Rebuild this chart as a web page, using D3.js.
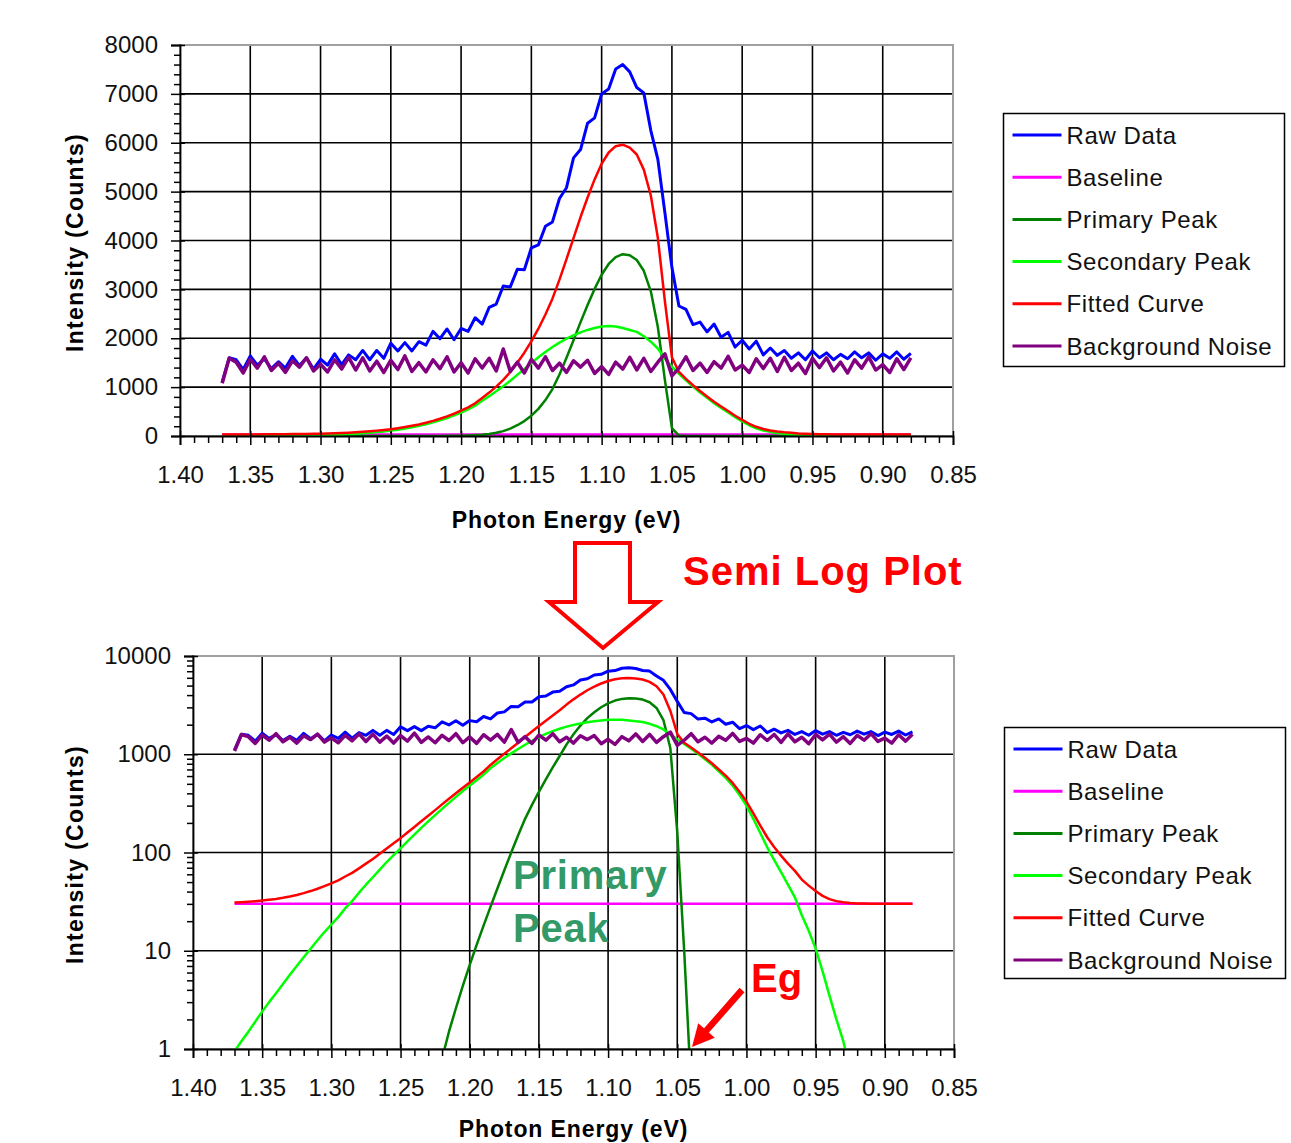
<!DOCTYPE html>
<html>
<head>
<meta charset="utf-8">
<script src="https://d3js.org/d3.v7.min.js"></script>
<style>
    body { margin: 0; background: #ffffff; }
    svg { display: block; }
    text { font-family: "Liberation Sans", Arial, sans-serif; }
</style>
</head>
<body>
<svg id="drawing_region"></svg>
<script>
// values (photon energy in eV, intensity in counts)
const energy = [
    1.370,1.365,1.360,1.355,1.350,1.345,1.340,1.335,1.330,1.325,
    1.320,1.315,1.310,1.305,1.300,1.295,1.290,1.285,1.280,1.275,
    1.270,1.265,1.260,1.255,1.250,1.245,1.240,1.235,1.230,1.225,
    1.220,1.215,1.210,1.205,1.200,1.195,1.190,1.185,1.180,1.175,
    1.170,1.165,1.160,1.155,1.150,1.145,1.140,1.135,1.130,1.125,
    1.120,1.115,1.110,1.105,1.100,1.095,1.090,1.085,1.080,1.075,
    1.070,1.065,1.060,1.055,1.050,1.045,1.040,1.035,1.030,1.025,
    1.020,1.015,1.010,1.005,1.000,0.995,0.990,0.985,0.980,0.975,
    0.970,0.965,0.960,0.955,0.950,0.945,0.940,0.935,0.930,0.925,
    0.920,0.915,0.910,0.905,0.900,0.895,0.890,0.885,0.880
];

const rawData = [
    1100,1600,1560,1360,1640,1450,1580,1380,1520,1390,
    1630,1440,1600,1370,1570,1450,1680,1460,1660,1560,
    1750,1560,1750,1590,1900,1740,1910,1740,1930,1860,
    2140,1990,2190,1970,2200,2140,2420,2290,2630,2700,
    3070,3050,3410,3400,3850,3910,4290,4380,4860,5080,
    5690,5860,6400,6510,7000,7100,7510,7600,7450,7130,
    7020,6250,5660,4570,3450,2660,2590,2280,2330,2130,
    2290,2020,2120,1820,1960,1780,1940,1660,1800,1650,
    1750,1590,1700,1560,1740,1600,1700,1560,1670,1580,
    1720,1600,1700,1550,1680,1590,1720,1570,1690
];

const baselineEnergy = [1.370, 0.880];
const baselineCounts = [30, 30];

const primaryPeak = [
    0.01,0.01,0.01,0.01,0.01,0.01,0.01,0.01,0.01,0.01,
    0.01,0.01,0.01,0.01,0.01,0.01,0.01,0.01,0.01,0.01,
    0.01,0.01,0.01,0.01,0.02,0.03,0.05,0.1,0.2,0.4,
    0.8,1.5,2.6,4.4,7.2,11.5,18,28,43,66,
    100,150,220,305,415,555,735,960,1260,1600,
    1960,2330,2680,3010,3300,3520,3660,3720,3700,3600,
    3380,2960,2230,1150,160,10,0.4,0.01,0.01,0.01,
    0.01,0.01,0.01,0.01,0.01,0.01,0.01,0.01,0.01,0.01,
    0.01,0.01,0.01,0.01,0.01,0.01,0.01,0.01,0.01,0.01,
    0.01,0.01,0.01,0.01,0.01,0.01,0.01,0.01,0.01
];

const secondaryPeak = [
    0.95,1.2,1.5,1.9,2.4,3.0,3.7,4.6,5.7,7.0,
    8.6,10.5,12.8,15.5,18.5,22,27,32,39,47,
    56,67,80,94,110,130,152,178,207,240,
    278,320,368,422,480,545,620,720,815,915,
    1020,1130,1250,1370,1490,1610,1720,1820,1910,1990,
    2060,2120,2170,2210,2240,2250,2240,2210,2170,2130,
    2040,1930,1790,1580,1420,1270,1140,1010,890,780,
    670,575,480,385,300,220,158,113,84,63,
    47,35,23,16,10.5,6.2,3.5,2.0,1.2,0.6,
    0.3,0.15,0.07,0.03,0.01,0.01,0.01,0.01,0.01
];

const fittedCurve = [
    31,31.2,31.5,31.9,32.4,33,33.7,34.6,35.7,37,
    38.6,40.5,42.8,45.5,48.5,52,57,62,69,77,
    86,97,110,124,140,160,182,208,237,270,
    309,352,401,456,517,587,668,778,888,1011,
    1150,1310,1500,1705,1935,2195,2485,2810,3200,3620,
    4050,4480,4880,5250,5570,5800,5930,5960,5900,5760,
    5450,4920,4050,2760,1610,1310,1170,1040,920,810,
    700,605,510,415,330,250,188,143,114,93,
    77,65,53,46,40.5,36.2,33.5,32,31.2,30.6,
    30.3,30.2,30.1,30,30,30,30,30,30
];

const backgroundNoise = [
    1080,1590,1510,1290,1570,1390,1620,1340,1490,1300,
    1540,1410,1600,1330,1470,1310,1560,1370,1610,1350,
    1600,1330,1530,1300,1550,1360,1640,1320,1500,1310,
    1560,1380,1620,1310,1500,1290,1580,1390,1590,1330,
    1780,1320,1510,1290,1570,1390,1620,1340,1490,1300,
    1540,1410,1550,1280,1420,1260,1510,1370,1610,1350,
    1590,1320,1510,1680,1230,1390,1620,1340,1490,1300,
    1520,1390,1630,1350,1450,1300,1580,1380,1590,1320,
    1610,1340,1490,1280,1590,1400,1600,1330,1510,1290,
    1560,1390,1620,1350,1460,1300,1580,1360,1600
];

const seriesNames = ["Raw Data", "Baseline", "Primary Peak", "Secondary Peak", "Fitted Curve", "Background Noise"];
const seriesColors = ["#0000ff", "#ff00ff", "#008000", "#00ff00", "#ff0000", "#800080"];

const xTicks = [1.40, 1.35, 1.30, 1.25, 1.20, 1.15, 1.10, 1.05, 1.00, 0.95, 0.90, 0.85];
const linearTicks = [0, 1000, 2000, 3000, 4000, 5000, 6000, 7000, 8000];
const logTicks = [1, 10, 100, 1000, 10000];

const toPoints = (xs, ys) => xs.map((x, i) => ({x: x, y: ys[i]}));

const seriesData = [
    toPoints(energy, rawData),
    toPoints(baselineEnergy, baselineCounts),
    toPoints(energy, primaryPeak),
    toPoints(energy, secondaryPeak),
    toPoints(energy, fittedCurve),
    toPoints(energy, backgroundNoise)
];
const seriesWidths = [3, 2.5, 2.5, 2.5, 2.5, 3.5];

d3.select('#drawing_region')
    .attr('width', 1291)
    .attr('height', 1143);

class SpectrumChart {

    constructor( config, data ) {
        this.config = {
            parent: config.parent,
            id: config.id,
            left: config.left,
            top: config.top,
            width: config.width,
            height: config.height,
            yType: config.yType || 'linear',
            yTicks: config.yTicks,
            titleY: config.titleY,
            legend: config.legend
        };
        this.data = data;
        this.init();
    }

    init() {
        let self = this;

        self.svg = d3.select( self.config.parent );

        self.chart = self.svg.append('g')
            .attr('transform', `translate(${self.config.left}, ${self.config.top})`);

        self.xscale = d3.scaleLinear()
            .domain( [xTicks[0], xTicks[xTicks.length - 1]] )
            .range( [0, self.config.width] );

        const yext = d3.extent( self.config.yTicks );
        if ( self.config.yType == 'log' ) {
            self.yscale = d3.scaleLog().domain( yext ).range( [self.config.height, 0] );
            self.yminor = [];
            self.config.yTicks.slice(0, -1).forEach( d => {
                for ( let k = 2; k < 10; k++ ) self.yminor.push( k * d );
            });
        } else {
            self.yscale = d3.scaleLinear().domain( yext ).range( [self.config.height, 0] );
            self.yminor = d3.range( yext[0], yext[1], 200 ).filter( d => d % 1000 != 0 );
        }
        self.xminor = d3.range( 85, 140 ).map( d => d / 100 ).filter( d => Math.round(d * 100) % 5 != 0 );

        self.line = d3.line()
            .x( d => self.xscale(d.x) )
            .y( d => self.yscale(d.y) );

        self.chart.append('clipPath')
            .attr('id', self.config.id + '_clip')
            .append('rect')
            .attr('width', self.config.width)
            .attr('height', self.config.height);
    }

    render() {
        let self = this;
        const W = self.config.width, H = self.config.height;

        // grid
        self.chart.append('g')
            .selectAll('line')
            .data( xTicks.slice(1, -1) )
            .join('line')
            .attr('x1', d => self.xscale(d)).attr('x2', d => self.xscale(d))
            .attr('y1', 0).attr('y2', H)
            .attr('stroke', '#000').attr('stroke-width', 1.6);

        self.chart.append('g')
            .selectAll('line')
            .data( self.config.yTicks.slice(1, -1) )
            .join('line')
            .attr('x1', 0).attr('x2', W)
            .attr('y1', d => self.yscale(d)).attr('y2', d => self.yscale(d))
            .attr('stroke', '#000').attr('stroke-width', 1.6);

        self.chart.append('rect')
            .attr('width', W).attr('height', H)
            .attr('fill', 'none')
            .attr('stroke', '#a0a0a0')
            .attr('stroke-width', 2);

        // series
        const plot = self.chart.append('g')
            .attr('clip-path', `url(#${self.config.id}_clip)`);
        self.data.forEach( (s, i) => {
            plot.append('path')
                .attr('d', self.line(s))
                .attr('fill', 'none')
                .attr('stroke', seriesColors[i])
                .attr('stroke-width', seriesWidths[i])
                .attr('stroke-linejoin', 'round');
        });

        // axes
        const xaxis = d3.axisBottom( self.xscale )
            .tickValues( xTicks )
            .tickSizeOuter(0)
            .tickSize(9)
            .tickPadding(21)
            .tickFormat( d3.format('.2f') );
        const xg = self.chart.append('g')
            .attr('transform', `translate(0, ${H})`)
            .call( xaxis );
        xg.selectAll('.tick line').attr('y1', -5);

        const xminorAxis = d3.axisBottom( self.xscale )
            .tickValues( self.xminor )
            .tickSize(7)
            .tickFormat('');
        const xmg = self.chart.append('g')
            .attr('transform', `translate(0, ${H})`)
            .call( xminorAxis );
        xmg.select('.domain').remove();

        const yaxis = d3.axisLeft( self.yscale )
            .tickValues( self.config.yTicks )
            .tickSizeOuter(0)
            .tickSize(9)
            .tickPadding(13)
            .tickFormat( d3.format('d') );
        const yg = self.chart.append('g').call( yaxis );
        yg.selectAll('.tick line').attr('x1', 5);

        const yminorAxis = d3.axisLeft( self.yscale )
            .tickValues( self.yminor )
            .tickSize(6)
            .tickFormat('');
        const ymg = self.chart.append('g').call( yminorAxis );
        ymg.select('.domain').remove();

        [xg, xmg, yg, ymg].forEach( g => {
            g.attr('font-size', 24)
             .attr('font-family', '"Liberation Sans", Arial, sans-serif');
            g.selectAll('line').attr('stroke', '#000').attr('stroke-width', 1.5);
            g.selectAll('.domain').attr('stroke', '#000').attr('stroke-width', 1.8);
            g.selectAll('text').attr('fill', '#111');
        });

        // axis titles
        self.svg.append('text')
            .attr('x', self.config.left + W / 2)
            .attr('y', self.config.titleY)
            .attr('text-anchor', 'middle')
            .attr('font-size', '23px')
            .attr('font-weight', 'bold')
            .attr('letter-spacing', 0.9)
            .text('Photon Energy (eV)');

        self.svg.append('text')
            .attr('transform', `translate(83, ${self.config.top + H / 2 + 2}) rotate(-90)`)
            .attr('text-anchor', 'middle')
            .attr('font-size', '23px')
            .attr('font-weight', 'bold')
            .attr('letter-spacing', 1.3)
            .text('Intensity (Counts)');

        // legend
        const lg = self.config.legend;
        const legend = self.svg.append('g')
            .attr('transform', `translate(${lg.x}, ${lg.y})`);
        legend.append('rect')
            .attr('width', lg.w).attr('height', lg.h)
            .attr('fill', '#fff')
            .attr('stroke', '#000')
            .attr('stroke-width', 1.5);
        seriesNames.forEach( (name, i) => {
            const cy = 21.5 + i * lg.step;
            legend.append('line')
                .attr('x1', 9).attr('x2', 58)
                .attr('y1', cy).attr('y2', cy)
                .attr('stroke', seriesColors[i])
                .attr('stroke-width', 3);
            legend.append('text')
                .attr('x', 63)
                .attr('y', cy + 8.5)
                .attr('font-size', '24px')
                .attr('letter-spacing', 0.6)
                .attr('fill', '#111')
                .text(name);
        });
    }
}

const topChart = new SpectrumChart({
    parent: '#drawing_region',
    id: 'linear',
    left: 180, top: 45, width: 773, height: 391,
    yType: 'linear',
    yTicks: linearTicks,
    titleY: 528,
    legend: {x: 1003.5, y: 113.5, w: 281, h: 253, step: 42.2}
}, seriesData);
topChart.render();

const bottomChart = new SpectrumChart({
    parent: '#drawing_region',
    id: 'semilog',
    left: 193, top: 656, width: 761, height: 393,
    yType: 'log',
    yTicks: logTicks,
    titleY: 1137,
    legend: {x: 1004.5, y: 727.5, w: 281, h: 251, step: 42.2}
}, seriesData);
bottomChart.render();

// annotations
const svg = d3.select('#drawing_region');

const hollowArrow = [[575,543],[630,543],[630,602],[658,602],[603,648],[549,602],[575,602]];
svg.append('polygon')
    .attr('points', hollowArrow.map(p => p.join(',')).join(' '))
    .attr('fill', '#fff')
    .attr('stroke', '#ff0000')
    .attr('stroke-width', 4)
    .attr('stroke-linejoin', 'miter');

svg.append('text')
    .attr('x', 683).attr('y', 585)
    .attr('font-size', '40px')
    .attr('font-weight', 'bold')
    .attr('letter-spacing', 1)
    .attr('fill', '#ff0000')
    .text('Semi Log Plot');

svg.append('text')
    .attr('x', 513).attr('y', 889)
    .attr('font-size', '40px')
    .attr('font-weight', 'bold')
    .attr('letter-spacing', 0.8)
    .attr('fill', '#339966')
    .text('Primary');
svg.append('text')
    .attr('x', 513).attr('y', 942)
    .attr('font-size', '40px')
    .attr('font-weight', 'bold')
    .attr('letter-spacing', 0.8)
    .attr('fill', '#339966')
    .text('Peak');

svg.append('text')
    .attr('x', 751).attr('y', 992)
    .attr('font-size', '40px')
    .attr('font-weight', 'bold')
    .attr('fill', '#ff0000')
    .text('Eg');

// Eg pointer
const from = [742, 990], tip = [692, 1047];
const len = Math.hypot(tip[0] - from[0], tip[1] - from[1]);
const ux = (tip[0] - from[0]) / len, uy = (tip[1] - from[1]) / len;
const hl = 22, hw = 11;
const bx = tip[0] - ux * hl, by = tip[1] - uy * hl;
svg.append('line')
    .attr('x1', from[0]).attr('y1', from[1])
    .attr('x2', bx + ux * 2).attr('y2', by + uy * 2)
    .attr('stroke', '#ff0000')
    .attr('stroke-width', 6.5);
svg.append('polygon')
    .attr('points', [
        [tip[0], tip[1]],
        [bx - uy * hw, by + ux * hw],
        [bx + uy * hw, by - ux * hw]
    ].map(p => p.join(',')).join(' '))
    .attr('fill', '#ff0000');
</script>
</body>
</html>
